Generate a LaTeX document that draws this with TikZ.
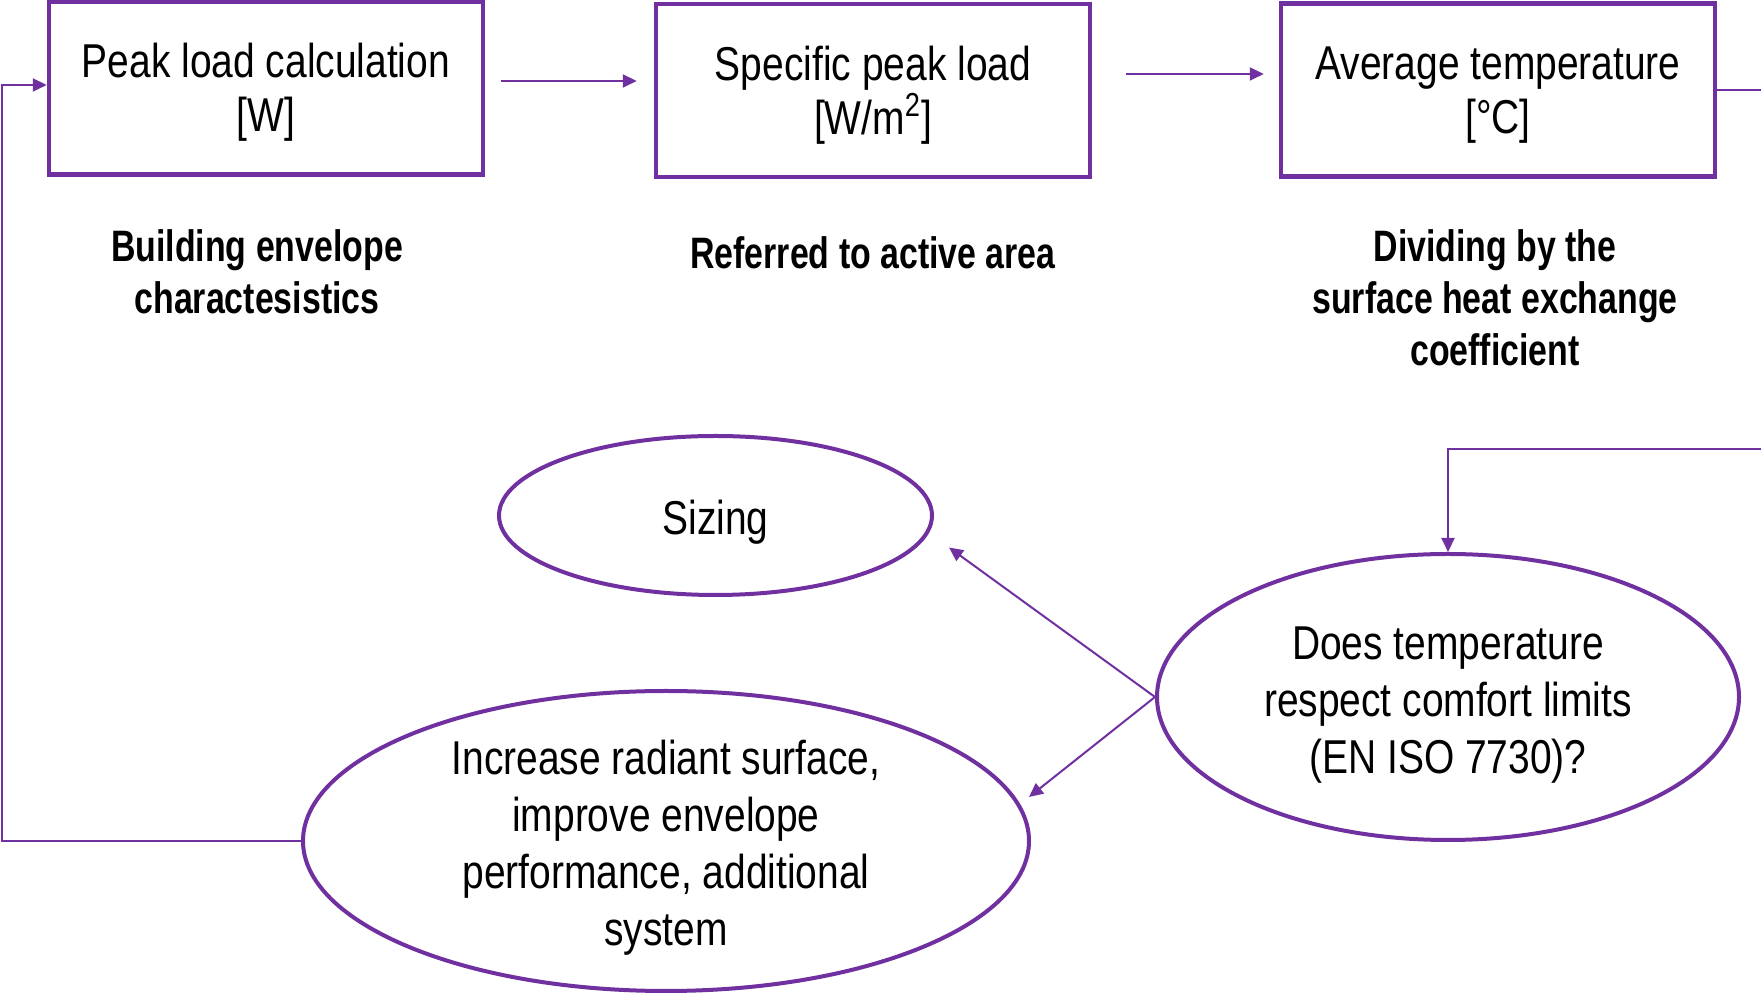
\documentclass[tikz,border=0pt]{standalone}
\usepackage{fontspec}
\setmainfont{Liberation Sans}[FakeStretch=0.82]
\newfontfamily\notefont{Liberation Sans}[FakeStretch=0.77]
\usetikzlibrary{arrows.meta,positioning,shapes.geometric}
\definecolor{flowpurple}{HTML}{7030A0}
\newcommand{\lift}[1][24pt]{\rule{0pt}{#1}}

\begin{document}
\begin{tikzpicture}[x=0.5pt,y=0.5pt,
    stage/.style={draw=flowpurple, line width=2.25pt, minimum width=217pt, minimum height=86.5pt,
      inner sep=0pt, align=center, font=\fontsize{23.75}{27}\selectfont},
    bubble/.style={ellipse, draw=flowpurple, line width=2pt, inner sep=0pt, align=center,
      font=\fontsize{23.75}{28.5}\selectfont},
    note/.style={align=center, font=\notefont\bfseries\fontsize{22}{26}\selectfont},
    flowline/.style={draw=flowpurple, line width=1pt},
    flow/.style={flowline, -{Triangle[length=7pt,width=6.5pt]}}]
    \useasboundingbox (0,0) rectangle (1761,995);

    % Calculation chain
    \node[stage] (load) at (266,907) {\lift[21.7pt]Peak load calculation\\{[W]}};
    \node[stage] (specific) at (873,904.5) {\lift[21.7pt]Specific peak load\\{[W/m\textsuperscript{2}]}};
    \node[stage] (avgtemp) at (1498,905) {\lift[21.7pt]Average temperature\\{[°C]}};

    \node[note] (envelope) at (257,723) {Building envelope\\charactesistics};
    \node[note] (area) at (873,742) {Referred to active area};
    \node[note] (dividing) at (1495,697) {Dividing by the\\surface heat exchange\\coefficient};

    % Check and outcomes
    \node[bubble, minimum width=216.5pt, minimum height=79.5pt] (sizing) at (715.5,479.5) {\lift Sizing};
    \node[bubble, minimum width=291pt, minimum height=143pt] (comfort) at (1448,298)
        {\lift Does temperature\\respect comfort limits\\(EN ISO 7730)?};
    \node[bubble, inner ysep=-6pt, minimum width=363pt, minimum height=150pt] (improve) at (666,154)
        {\lift Increase radiant surface,\\improve envelope\\performance, additional\\system};

    \coordinate (outA) at (1761,905);
    \coordinate (inB) at (1761,546);
    \coordinate (rail) at (2,910);

    % Connectors
    \draw[flow] ([xshift=8pt,yshift=3.5pt]load.east) -- ([xshift=-8.5pt,yshift=4.75pt]specific.west);
    \draw[flow] ([xshift=17pt,yshift=8.25pt]specific.east) -- ([xshift=-7.5pt,yshift=8pt]avgtemp.west);
    \draw[flowline] (avgtemp.east) -- (outA);
    \draw[flow] (inB) -| (comfort.north);
    \draw[flow] (comfort.west) -- ([xshift=7.5pt,yshift=-16pt]sizing.east);
    \draw[flow] (comfort.west) -- ([xshift=-1pt,yshift=22pt]improve.east);
    \draw[flow] (improve.west) -| (rail) -- ([yshift=1.5pt]load.west);
\end{tikzpicture}
\end{document}
